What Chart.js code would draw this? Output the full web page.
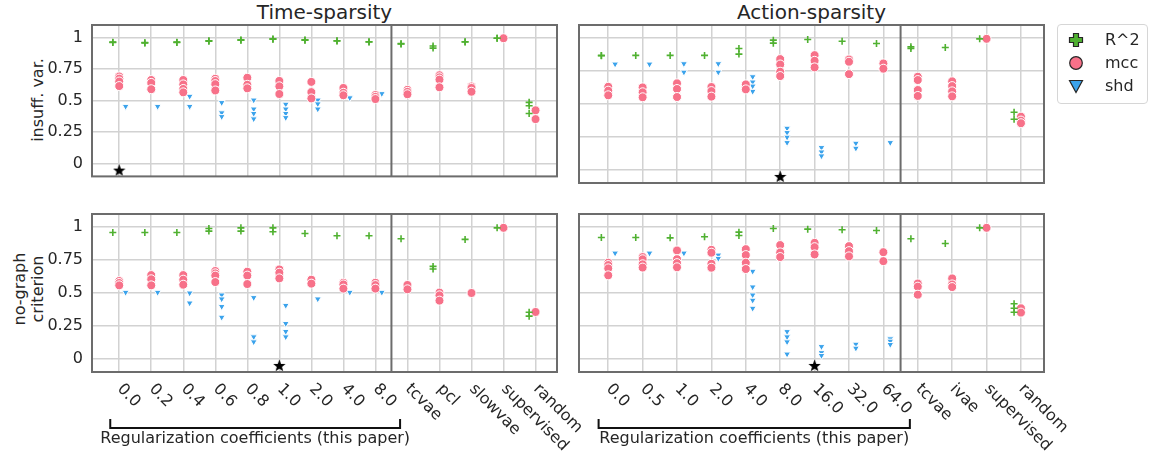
<!DOCTYPE html>
<html>
<head>
<meta charset="utf-8">
<script src="https://cdn.jsdelivr.net/npm/chart.js@4/dist/chart.umd.min.js"></script>
<style>
  body { margin: 0; background: #fff; width: 1149px; height: 459px; position: relative; overflow: hidden;
         font-family: "DejaVu Sans", sans-serif; color: #262626; }
  canvas { position: absolute; }
  .title { position: absolute; top: 0; text-align: center; font-size: 20px; line-height: 24px; }
  .ylab { position: absolute; font-size: 16px; line-height: 18px; text-align: center; white-space: nowrap;
          transform: translate(-50%, -50%) rotate(-90deg); }
  #legend { position: absolute; left: 1057px; top: 24px; width: 91px; height: 80px; border: 1px solid #d6d6d6;
            border-radius: 4px; box-sizing: border-box; }
  .li { position: absolute; left: 0; width: 90px; height: 20px; font-size: 16px; line-height: 20px; }
  .li svg { position: absolute; left: 9px; top: 1px; }
  .li span { position: absolute; left: 47px; top: 0; }
</style>
</head>
<body>
<div class="title" style="left:92px;width:465px">Time-sparsity</div>
<div class="title" style="left:579px;width:465px">Action-sparsity</div>
<div class="ylab" style="left:38px;top:100px">insuff. var.</div>
<div class="ylab" style="left:29px;top:289px">no-graph<br>criterion</div>

<canvas id="c1" width="570" height="195" style="left:0;top:0"></canvas>
<canvas id="c2" width="490" height="195" style="left:570px;top:0"></canvas>
<canvas id="c3" width="600" height="264" style="left:0;top:195px"></canvas>
<canvas id="c4" width="520" height="264" style="left:570px;top:195px"></canvas>

<div id="legend">
  <div class="li" style="top:5px">
    <svg width="18" height="18" viewBox="0 0 18 18"><polygon points="6.5,2.5 11.5,2.5 11.5,6.5 15.5,6.5 15.5,11.5 11.5,11.5 11.5,15.5 6.5,15.5 6.5,11.5 2.5,11.5 2.5,6.5 6.5,6.5" fill="#50b131" stroke="#262626" stroke-width="1.2"/></svg>
    <span>R^2</span>
  </div>
  <div class="li" style="top:28px">
    <svg width="18" height="18" viewBox="0 0 18 18"><circle cx="9" cy="9" r="6.3" fill="#f77189" stroke="#262626" stroke-width="1.2"/></svg>
    <span>mcc</span>
  </div>
  <div class="li" style="top:51px">
    <svg width="18" height="18" viewBox="0 0 18 18"><polygon points="2.5,3.5 15.5,3.5 9,15.5" fill="#3ba3ec" stroke="#262626" stroke-width="1.2"/></svg>
    <span>shd</span>
  </div>
</div>

<script>
const timeCats = ["0.0", "0.2", "0.4", "0.6", "0.8", "1.0", "2.0", "4.0", "8.0", "tcvae", "pcl", "slowvae", "supervised", "random"];
const actionCats = ["0.0", "0.5", "1.0", "2.0", "4.0", "8.0", "16.0", "32.0", "64.0", "tcvae", "ivae", "supervised", "random"];
const yTicks = [0, 0.25, 0.5, 0.75, 1];
const yTickLabels = ["0", "0.25", "0.5", "0.75", "1"];

// time-sparsity, insufficient variability
const timeInsuffR2 = [[0.964, 0.962], [0.958, 0.96], [0.964, 0.962], [0.975, 0.972], [0.982, 0.98], [0.99, 0.988], [0.982, 0.98], [0.975, 0.973], [0.967, 0.965], [0.952, 0.95], [0.934, 0.917], [0.967, 0.965], [0.995, 0.995], [0.487, 0.46, 0.399]];
const timeInsuffMcc = [[0.692, 0.675, 0.652, 0.616], [0.664, 0.641, 0.591], [0.664, 0.629, 0.593, 0.566], [0.674, 0.656, 0.631, 0.581], [0.682, 0.626, 0.598], [0.657, 0.614, 0.553], [0.649, 0.568, 0.518], [0.601, 0.563, 0.543], [0.545, 0.53, 0.513], [0.586, 0.57, 0.551], [0.702, 0.685, 0.667, 0.606], [0.613, 0.601, 0.571], [0.995], [0.424, 0.354]];
const timeInsuffShd = [[0.455], [0.455], [0.535, 0.455], [0.485, 0.404, 0.374], [0.505, 0.434, 0.399, 0.356], [0.472, 0.434, 0.399, 0.366], [0.505, 0.475, 0.434], [0.523], [0.556], [], [], [], [], []];

// action-sparsity, insufficient variability
const actionInsuffR2 = [[0.869, 0.867], [0.869], [0.869], [0.869], [0.922, 0.879], [0.985, 0.962], [0.99], [0.977], [0.96], [0.934, 0.922], [0.929], [0.995], [0.437, 0.384]];
const actionInsuffMcc = [[0.631, 0.601, 0.566], [0.626, 0.589, 0.551], [0.657, 0.614, 0.553], [0.629, 0.598, 0.556], [0.649, 0.611], [0.841, 0.8, 0.745, 0.712], [0.871, 0.828, 0.778], [0.838, 0.821, 0.727], [0.808, 0.768], [0.707, 0.682, 0.606, 0.561], [0.672, 0.636, 0.596, 0.558], [0.995], [0.404, 0.374, 0.354]];
const actionInsuffShd = [[0.803], [0.803], [0.806, 0.742], [0.806, 0.742], [0.707, 0.667, 0.636, 0.596], [0.316, 0.283, 0.248, 0.207], [0.169, 0.136, 0.106], [0.202, 0.164], [0.207], [], [], [], []];

// time-sparsity, no-graph criterion
const timeNoGraphR2 = [[0.96], [0.96], [0.96], [0.99, 0.97], [0.995, 0.97], [0.995, 0.965], [0.952], [0.935], [0.935], [0.912], [0.702, 0.682], [0.907], [0.995], [0.354, 0.324]];
const timeNoGraphMcc = [[0.591, 0.576, 0.558], [0.636, 0.604, 0.558], [0.636, 0.601, 0.563], [0.667, 0.649, 0.632, 0.583], [0.662, 0.632, 0.568], [0.679, 0.654, 0.611], [0.601, 0.571], [0.578, 0.565, 0.533], [0.578, 0.56, 0.533], [0.561, 0.528], [0.503, 0.482, 0.442], [0.5], [0.995], [0.356]];
const timeNoGraphShd = [[0.505], [0.505], [0.5, 0.424], [0.485, 0.455, 0.397, 0.316], [0.465, 0.167, 0.129], [0.406, 0.268, 0.208, 0.167], [0.455], [0.505], [0.505], [], [], [], [], []];

// action-sparsity, no-graph criterion
const actionNoGraphR2 = [[0.922], [0.922], [0.919], [0.927], [0.962, 0.937], [0.99], [0.985], [0.98], [0.975], [0.912], [0.876], [0.995], [0.418, 0.384, 0.354]];
const actionNoGraphMcc = [[0.73, 0.712, 0.687, 0.634], [0.773, 0.756, 0.718, 0.693], [0.823, 0.757, 0.727, 0.695], [0.828, 0.806, 0.722, 0.692], [0.833, 0.788, 0.73, 0.682], [0.864, 0.808, 0.773], [0.881, 0.848, 0.793], [0.856, 0.818, 0.778], [0.81, 0.742], [0.572, 0.548, 0.487], [0.611, 0.565, 0.545], [0.995], [0.384, 0.351]];
const actionNoGraphShd = [[0.803], [0.803], [0.803], [0.788, 0.763], [0.665, 0.546, 0.485, 0.445, 0.384], [0.207, 0.167, 0.129, 0.036], [0.093, 0.047, 0.025], [0.111, 0.081], [0.152, 0.134, 0.109], [], [], [], []];

// index of the selected coefficient (black star) in each panel
const bestIndex = [0, 5, 5, 6];
const starY = -0.05;

const GREEN = "#50b131", PINK = "#f77189", BLUE = "#3ba3ec";

function pts(groups, off) {
  const out = [];
  groups.forEach((g, i) => g.forEach(v => out.push({ x: i + off, y: v })));
  return out;
}

function starImage(size) {
  const c = document.createElement("canvas");
  c.width = c.height = size;
  const g = c.getContext("2d");
  g.fillStyle = "#000";
  g.beginPath();
  for (let k = 0; k < 10; k++) {
    const r = k % 2 ? size * 0.21 : size * 0.5;
    const a = -Math.PI / 2 + k * Math.PI / 5;
    g.lineTo(size / 2 + r * Math.cos(a), size / 2 + 0.6 + r * Math.sin(a));
  }
  g.closePath();
  g.fill();
  return c;
}
const star = starImage(13);

const panelDecor = {
  id: "panelDecor",
  afterDraw(chart, args, o) {
    const { ctx, chartArea: a } = chart;
    const x = chart.scales.x;
    ctx.save();
    ctx.strokeStyle = "#6c6c6c";
    ctx.lineWidth = 2;
    const sx = x.getPixelForValue(o.split);
    ctx.beginPath();
    ctx.moveTo(sx, a.top);
    ctx.lineTo(sx, a.bottom);
    ctx.stroke();
    ctx.strokeRect(a.left, a.top, a.right - a.left, a.bottom - a.top);

    if (o.labels) {
      ctx.font = '16px "DejaVu Sans"';
      ctx.fillStyle = "#262626";
      ctx.textAlign = "left";
      ctx.textBaseline = "top";
      o.labels.forEach((lab, i) => {
        const px = x.getPixelForValue(i);
        ctx.save();
        ctx.translate(px + 6, a.bottom + 9);
        ctx.rotate(Math.PI / 4);
        ctx.fillText(lab, 0, 0);
        ctx.restore();
      });
      // bracket under the coefficients
      const x0 = x.getPixelForValue(-0.28), x1 = x.getPixelForValue(8.77);
      ctx.strokeStyle = "#111";
      ctx.lineWidth = 2;
      ctx.beginPath();
      ctx.moveTo(x0, a.bottom + 47);
      ctx.lineTo(x0, a.bottom + 56);
      ctx.lineTo(x1, a.bottom + 56);
      ctx.lineTo(x1, a.bottom + 47);
      ctx.stroke();
      ctx.textAlign = "center";
      ctx.textBaseline = "middle";
      ctx.fillText("Regularization coefficients (this paper)", (x0 + x1) / 2, a.bottom + 67);
    }
    ctx.restore();
  }
};

function makeChart(id, cats, r2, mcc, shd, best, o) {
  const n = cats.length;
  new Chart(document.getElementById(id), {
    type: "scatter",
    data: {
      datasets: [
        { label: "R^2", data: pts(r2, -0.2), pointStyle: "cross", pointRadius: 3.5,
          borderColor: GREEN, backgroundColor: GREEN, pointBorderWidth: 1.6 },
        { label: "mcc", data: pts(mcc, 0), pointStyle: "circle", pointRadius: 4.5,
          backgroundColor: PINK, borderColor: "#ffffff", pointBorderWidth: 1 },
        { label: "shd", data: pts(shd, 0.2), pointStyle: "triangle", rotation: 180, pointRadius: 4,
          backgroundColor: BLUE, borderColor: "#ffffff", pointBorderWidth: 1 },
        { label: "best", data: [{ x: best, y: starY }], pointStyle: star, pointRadius: 6 }
      ]
    },
    options: {
      responsive: false,
      animation: false,
      events: [],
      layout: { padding: o.padding },
      plugins: {
        legend: { display: false },
        tooltip: { enabled: false },
        panelDecor: { split: 8.5, labels: o.showX ? cats : null }
      },
      scales: {
        x: {
          type: "linear",
          min: -0.85,
          max: n - 1 + 0.67,
          afterBuildTicks: ax => { ax.ticks = cats.map((c, i) => ({ value: i })); },
          afterFit: ax => { ax.height = 0; },
          ticks: { display: false },
          grid: { color: "#d2d2d2", lineWidth: 1.5, drawTicks: false },
          border: { display: false }
        },
        y: {
          min: -0.1,
          max: 1.1,
          afterBuildTicks: ax => { ax.ticks = yTicks.map(v => ({ value: v })); },
          afterFit: ax => { ax.width = o.showY ? 92 : 0; },
          ticks: {
            display: o.showY,
            padding: 9,
            color: "#262626",
            font: { family: "DejaVu Sans", size: 16 },
            callback: v => { const k = yTicks.indexOf(v); return k >= 0 ? yTickLabels[k] : ""; }
          },
          grid: { color: "#d2d2d2", lineWidth: 1.5, drawTicks: false },
          border: { display: false }
        }
      }
    },
    plugins: [panelDecor]
  });
}

makeChart("c1", timeCats, timeInsuffR2, timeInsuffMcc, timeInsuffShd, bestIndex[0],
  { showY: true, showX: false, padding: { left: 0, right: 13, top: 25, bottom: 12 } });
makeChart("c2", actionCats, actionInsuffR2, actionInsuffMcc, actionInsuffShd, bestIndex[1],
  { showY: false, showX: false, padding: { left: 9, right: 16, top: 25, bottom: 12 } });
makeChart("c3", timeCats, timeNoGraphR2, timeNoGraphMcc, timeNoGraphShd, bestIndex[2],
  { showY: true, showX: true, padding: { left: 0, right: 43, top: 19, bottom: 87 } });
makeChart("c4", actionCats, actionNoGraphR2, actionNoGraphMcc, actionNoGraphShd, bestIndex[3],
  { showY: false, showX: true, padding: { left: 9, right: 46, top: 19, bottom: 87 } });
</script>
</body>
</html>
